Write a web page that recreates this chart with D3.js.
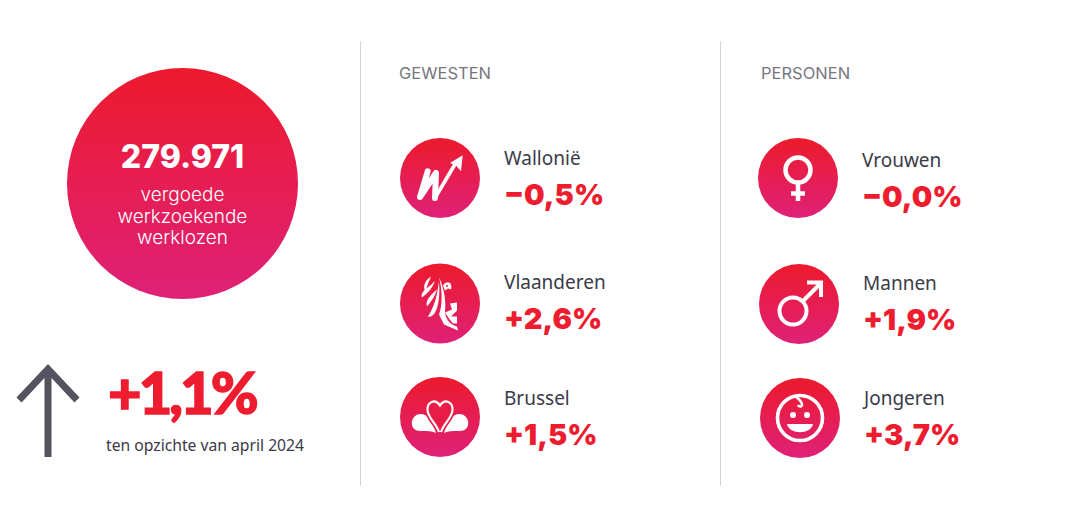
<!DOCTYPE html>
<html>
<head>
<meta charset="utf-8">
<script src="https://cdnjs.cloudflare.com/ajax/libs/d3/7.8.5/d3.min.js"></script>
<style>
  html, body { margin: 0; padding: 0; background: #fff; }
  svg { display: block; }
</style>
</head>
<body>
<div id="chart"></div>
<script>
// data
const totalValue = '279.971';
const totalLines = ['vergoede', 'werkzoekende', 'werklozen'];
const changeValue = '+1,1%';
const changeLabel = 'ten opzichte van april 2024';

const sectionTitles = ['GEWESTEN', 'PERSONEN'];
const regionNames = ['Wallonië', 'Vlaanderen', 'Brussel'];
const regionValues = ['−0,5%', '+2,6%', '+1,5%'];
const regionIcons = ['wallonia', 'flanders', 'brussels'];
const personNames = ['Vrouwen', 'Mannen', 'Jongeren'];
const personValues = ['−0,0%', '+1,9%', '+3,7%'];
const personIcons = ['female', 'male', 'baby'];

const width = 1081, height = 526;
const labelFont = '"Noto Sans", sans-serif';
const headFont = 'Inter, sans-serif';
const red = '#ed1c2e', dark = '#3a3a48', grey = '#77777f';

const svg = d3.select('#chart').append('svg')
  .attr('width', width).attr('height', height)
  .attr('viewBox', `0 0 ${width} ${height}`);

const grad = svg.append('defs').append('linearGradient')
  .attr('id', 'redPink').attr('x1', 0).attr('y1', 0).attr('x2', 0).attr('y2', 1);
grad.append('stop').attr('offset', '0%').attr('stop-color', '#ed1a2c');
grad.append('stop').attr('offset', '100%').attr('stop-color', '#df2178');

// big circle
svg.append('circle')
  .attr('cx', 182.5).attr('cy', 183.5).attr('r', 115.5)
  .attr('fill', 'url(#redPink)');
svg.append('text')
  .attr('x', 182.5).attr('y', 168).attr('text-anchor', 'middle')
  .attr('font-family', headFont).attr('font-weight', 800).attr('font-size', 32)
  .attr('fill', '#fff').text(totalValue);
svg.append('g').selectAll('text').data(totalLines).join('text')
  .attr('x', 182.5).attr('y', (d, i) => 201 + i * 21.7)
  .attr('text-anchor', 'middle')
  .attr('font-family', headFont).attr('font-weight', 300).attr('font-size', 19)
  .attr('fill', '#fff').text(d => d);

// arrow
svg.append('path')
  .attr('d', 'M48 457V368M19 400L48 369L77 400')
  .attr('fill', 'none').attr('stroke', '#54535f').attr('stroke-width', 7);
svg.append('text')
  .attr('x', 108).attr('y', 414)
  .attr('font-family', 'Lato, sans-serif').attr('font-weight', 900).attr('font-size', 58)
  .attr('letter-spacing', -3)
  .attr('stroke', red).attr('stroke-width', 1.4)
  .attr('fill', red).text(changeValue);
svg.append('text')
  .attr('x', 106).attr('y', 451)
  .attr('font-family', labelFont).attr('font-size', 15.7)
  .attr('fill', dark).text(changeLabel);

// separators
svg.append('g').selectAll('line').data([360.5, 720.5]).join('line')
  .attr('x1', d => d).attr('x2', d => d).attr('y1', 41).attr('y2', 486)
  .attr('stroke', '#d4d4d6').attr('stroke-width', 1);

// section titles
svg.append('g').selectAll('text').data(sectionTitles).join('text')
  .attr('x', (d, i) => [399, 761][i]).attr('y', 79)
  .attr('font-family', headFont).attr('font-size', 16.5)
  .attr('fill', grey).text(d => d);

// icons, drawn around the centre of their circle
const iconDraw = {
  wallonia(g) {
    g.append('path')
      .attr('d', 'M-12.3 -6.7L-20 19L-4 -5L-5 20')
      .attr('fill', 'none').attr('stroke', '#fff').attr('stroke-width', 6)
      .attr('stroke-linejoin', 'round').attr('stroke-linecap', 'round');
    g.append('path')
      .attr('d', 'M-5 20L15.7 -15')
      .attr('fill', 'none').attr('stroke', '#fff').attr('stroke-width', 3.6)
      .attr('stroke-linecap', 'round');
    g.append('path').attr('d', 'M22.7 -22.7L21 -6.7L15.7 -12.7L10 -15Z').attr('fill', '#fff');
  },
  flanders(g) {
    const white = [
      'M-9 -27C-17 -22 -17 -15 -14 -11C-14 -16 -11 -22 -9 -27Z',
      'M-5 -23C-11 -15 -20 -13 -18 -6C-13 -10 -8 -14 -5 -23Z',
      'M-3 -14C-10 -8 -15 -3 -13 3C-9 -2 -5 -7 -3 -14Z',
      'M-1 -22C-3 -8 -5 2 -12 13C-9 14 -7 12 -5 9C-1 2 0 -10 -1 -22Z',
      'M-1 -26C3 -12 2 4 -1 11L4 21L18 27L17 23C9 21 5 14 5 8C6 0 5 -14 -1 -26Z',
      'M3 -18C7 -24 13 -21 11 -14L8 -15L5 -13Z',
      'M10 0L17 -1L17 7L11 13L17 13L17 20L13 20L9 15L5 9L12 6Z'
    ];
    g.selectAll('path').data(white).join('path').attr('d', d => d).attr('fill', '#fff');
    g.append('circle').attr('cx', 7).attr('cy', -17.5).attr('r', 1).attr('fill', '#e81b42');
  },
  brussels(g) {
    g.append('path')
      .attr('d', 'M-4 16C-6 8 -11 -3 -19 -3C-26 -3 -29 3 -28 8C-27 13 -23 14 -18 14C-13 14 -8 14 -4 16Z')
      .attr('fill', '#fff');
    g.append('path')
      .attr('d', 'M4 16C6 8 11 -3 19 -3C26 -3 29 3 28 8C27 13 23 14 18 14C13 14 8 14 4 16Z')
      .attr('fill', '#fff');
    const heart = 'M-1 15C-4 6 -12 1 -12.5 -7C-13 -15 -5 -19 0 -11.5C5 -19 13 -15 12.5 -7C12 1 4 6 1 15';
    g.append('path').attr('d', heart)
      .attr('fill', '#e91c46').attr('stroke', '#e91c46').attr('stroke-width', 5.4);
    g.append('path').attr('d', heart)
      .attr('fill', 'none').attr('stroke', '#fff').attr('stroke-width', 2.2);
  },
  female(g) {
    g.append('circle').attr('cx', 0).attr('cy', -8).attr('r', 12.5)
      .attr('fill', 'none').attr('stroke', '#fff').attr('stroke-width', 4.5);
    g.append('path').attr('d', 'M0 5V23M-7 15.5H7')
      .attr('fill', 'none').attr('stroke', '#fff').attr('stroke-width', 4.5);
  },
  male(g) {
    g.append('circle').attr('cx', -6).attr('cy', 7).attr('r', 13.5)
      .attr('fill', 'none').attr('stroke', '#fff').attr('stroke-width', 4);
    g.append('path').attr('d', 'M4 -3L21 -20M8 -21.5H22V-7')
      .attr('fill', 'none').attr('stroke', '#fff').attr('stroke-width', 4);
  },
  baby(g) {
    g.append('circle').attr('cx', 0).attr('cy', 0).attr('r', 22.5)
      .attr('fill', 'none').attr('stroke', '#fff').attr('stroke-width', 3.6);
    g.append('path').attr('d', 'M-5 -22C-1 -19 2 -16 2 -13.5C2 -11 -1 -11 -2 -13')
      .attr('fill', 'none').attr('stroke', '#fff').attr('stroke-width', 2.6);
    g.append('circle').attr('cx', -7).attr('cy', -3).attr('r', 3).attr('fill', '#fff');
    g.append('circle').attr('cx', 7).attr('cy', -3).attr('r', 3).attr('fill', '#fff');
    g.append('path').attr('d', 'M-13 6H13C11 17 -11 17 -13 6Z').attr('fill', '#fff');
  }
};

function drawColumn(names, values, icons, circles, labels) {
  const rows = svg.append('g').selectAll('g').data(names).join('g');
  rows.append('circle')
    .attr('cx', (d, i) => circles[i][0]).attr('cy', (d, i) => circles[i][1]).attr('r', 40)
    .attr('fill', 'url(#redPink)');
  rows.append('g')
    .attr('transform', (d, i) => `translate(${circles[i][0]},${circles[i][1]})`)
    .each(function (d, i) { iconDraw[icons[i]](d3.select(this)); });
  rows.append('text')
    .attr('x', (d, i) => labels[i][0]).attr('y', (d, i) => labels[i][1])
    .attr('font-family', labelFont).attr('font-size', 19).attr('fill', dark)
    .text(d => d);
  rows.append('text')
    .attr('x', (d, i) => labels[i][0]).attr('y', (d, i) => labels[i][1] + 40)
    .attr('font-family', headFont).attr('font-weight', 900).attr('font-size', 29)
    .attr('fill', red).text((d, i) => values[i]);
}

drawColumn(regionNames, regionValues, regionIcons,
  [[440, 178], [440, 303.5], [440, 417]],
  [[504, 165], [504, 289], [504, 405]]);
drawColumn(personNames, personValues, personIcons,
  [[798, 178], [799, 304], [800, 418]],
  [[862, 167], [863, 290], [864, 405]]);
</script>
</body>
</html>
